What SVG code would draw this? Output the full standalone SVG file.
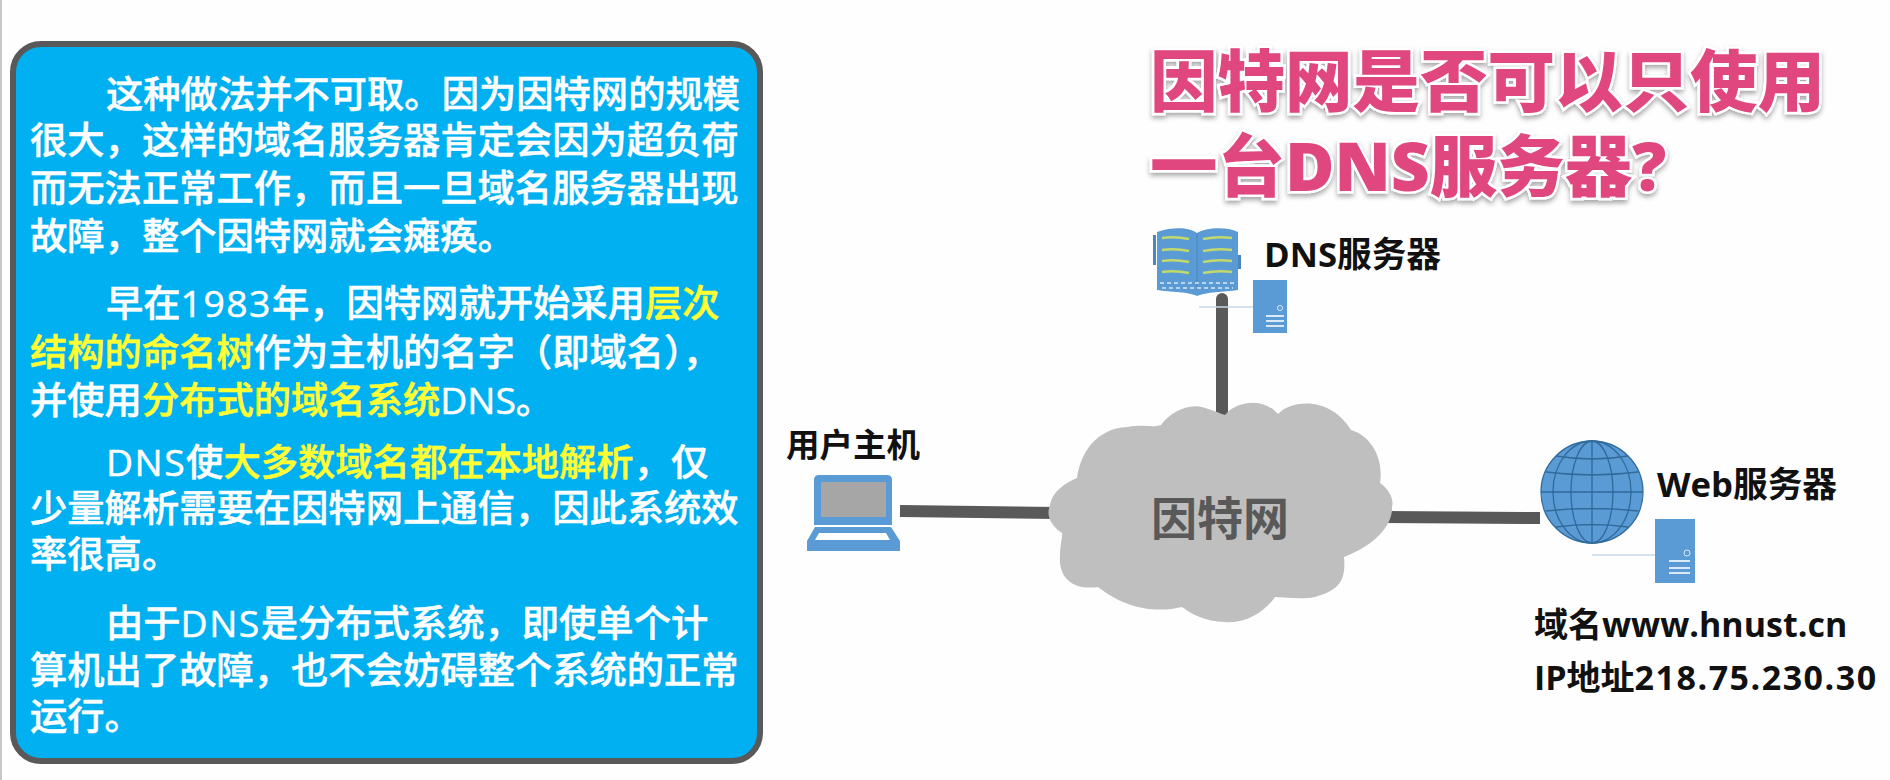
<svg xmlns="http://www.w3.org/2000/svg" width="1890" height="780" viewBox="0 0 1890 780">
<defs>
<style>
text{font-family:"Open Sans","Noto Sans CJK SC",sans-serif}
.p{font-size:37.3px;font-weight:500;fill:#fff;stroke:#fff;stroke-width:.5px}
.y{fill:#ffff33;stroke:#ffff33}
.s{letter-spacing:1.5px}
.l{font-size:34.7px;font-weight:700;fill:#111}
.i{font-size:34px;font-weight:700;fill:#111}
.t{font-size:67.5px;font-weight:800;fill:#e0477f;stroke:#fff;stroke-width:5px;paint-order:stroke;filter:url(#sh)}
.ic{fill:#5b9bd5}
.c{stroke:#595959;fill:none}
.hair{stroke:#c5d9ea;stroke-width:1.5;fill:none}
.w{stroke:#dbe8f5;stroke-width:2;fill:none}
.g{stroke:#2f6a9a;stroke-width:1.3;fill:none}
.b{stroke:#c2d96c;stroke-width:2.5;fill:none}
</style>
<filter id="sh" x="-5%" y="-10%" width="110%" height="125%"><feDropShadow dx="0" dy="3" stdDeviation="2.5" flood-color="#000" flood-opacity=".35"/></filter>
</defs>
<rect width="1890" height="780" fill="#fefefe"/>
<rect width="2" height="780" fill="#c8c8c8"/>
<g id="panel">
<rect x="13" y="44" width="747" height="717" rx="28" fill="#00b0f0" stroke="#595959" stroke-width="6"/>
<text class="p" x="106" y="108">这种做法并不可取。因为因特网的规模</text>
<text class="p" x="30" y="154">很大，这样的域名服务器肯定会因为超负荷</text>
<text class="p" x="30" y="202">而无法正常工作，而且一旦域名服务器出现</text>
<text class="p" x="30" y="250">故障，整个因特网就会瘫痪。</text>
<text class="p" x="106" y="317">早在<tspan class="s">1983</tspan>年，因特网就开始采用<tspan class="y">层次</tspan></text>
<text class="p" x="30" y="366"><tspan class="y">结构的命名树</tspan>作为主机的名字（即域名），</text>
<text class="p" x="30" y="414">并使用<tspan class="y">分布式的域名系统</tspan>DNS。</text>
<text class="p" x="106" y="476"><tspan class="s">DNS</tspan>使<tspan class="y">大多数域名都在本地解析</tspan>，仅</text>
<text class="p" x="30" y="522">少量解析需要在因特网上通信，因此系统效</text>
<text class="p" x="30" y="568">率很高。</text>
<text class="p" x="106" y="637">由于<tspan class="s">DNS</tspan>是分布式系统，即使单个计</text>
<text class="p" x="30" y="684">算机出了故障，也不会妨碍整个系统的正常</text>
<text class="p" x="30" y="730">运行。</text>
</g>
<g id="title">
<text class="t" x="1150" y="106">因特网是否可以只使用</text>
<text class="t" x="1150" y="191">一台DNS服务器?</text>
</g>
<g id="connectors">
<path class="c" stroke-width="12" d="M900 511L1056 513"/>
<path class="c" stroke-width="12" stroke-linecap="round" d="M1222 299V420"/>
<path class="c" stroke-width="12" d="M1385 517L1540 518"/>
</g>
<g id="cloud">
<path fill="#bfbfbf" d="M1077 478C1080 455 1095 428 1128 427C1145 424 1152 428 1161 425C1170 412 1190 402 1205 408C1215 411 1222 414 1225 415C1235 402 1262 396 1278 414C1290 400 1330 395 1351 430C1372 436 1384 460 1380 483C1390 490 1394 500 1392 507C1393 525 1375 545 1344 557C1346 580 1340 590 1315 597C1300 600 1285 597 1275 597C1265 612 1245 624 1225 622C1205 622 1190 613 1182 607C1160 612 1130 612 1098 587C1075 590 1058 580 1060 555C1060 545 1063 535 1062 533C1050 525 1046 515 1050 505C1052 492 1065 483 1077 478Z"/>
<text x="1220" y="535" text-anchor="middle" font-size="46" font-weight="700" fill="#595959">因特网</text>
</g>
<g id="user-host">
<text class="l" x="786" y="457" style="font-size:33.5px">用户主机</text>
<path class="ic" d="M819 475H887Q892 475 892 480V525H814V480Q814 475 819 475Z"/>
<rect x="821" y="482" width="65" height="35" fill="#a6a6a6"/>
<path class="ic" d="M815 527H891L900 541V551H807V541Z"/>
<path d="M819 533H886L890 540H815Z" fill="#fff"/>
</g>
<g id="dns-server">
<path class="ic" d="M1157 232C1175 226 1190 228 1197 233C1205 228 1225 226 1238 232V290C1225 292 1205 292 1197 296C1190 292 1170 292 1157 290Z"/>
<path d="M1197 233V290" stroke="#4a86bd" fill="none"/>
<path class="b" d="M1162 238Q1175 236 1189 239M1203 239Q1218 236 1232 238M1162 250Q1175 248 1189 251M1203 251Q1218 248 1232 250M1162 261Q1175 259 1189 262M1203 262Q1218 259 1232 261M1162 272Q1175 270 1189 273M1203 273Q1218 270 1232 272"/>
<path class="w" style="stroke-width:1.5" d="M1160 283H1235M1162 288H1233" stroke-dasharray="4 3"/>
<rect x="1153" y="235" width="3" height="30" fill="#4a86bd"/><rect x="1238" y="255" width="3" height="14" fill="#4a86bd"/>
<path class="hair" d="M1199 307H1253"/>
<rect class="ic" x="1253" y="280" width="34" height="53"/>
<circle cx="1280" cy="308" r="2.5" fill="none" stroke="#dbe8f5"/>
<path class="w" d="M1266 316H1284M1266 321H1284M1266 326H1284"/>
<text class="l" x="1264" y="267">DNS服务器</text>
</g>
<g id="web-server">
<circle class="ic" cx="1592" cy="492" r="51"/>
<g class="g"><circle cx="1592" cy="492" r="51"/><ellipse cx="1592" cy="492" rx="39" ry="51"/><ellipse cx="1592" cy="492" rx="21" ry="51"/>
<path d="M1592 441V543M1541 492H1643M1556 456Q1592 462 1628 456M1546 472Q1592 478 1638 472M1546 511Q1592 506 1638 511M1556 527Q1592 522 1628 527"/></g>
<path class="hair" d="M1592 555H1655"/>
<rect class="ic" x="1655" y="519" width="40" height="64"/>
<circle cx="1687" cy="553" r="3" fill="none" stroke="#dbe8f5"/>
<path class="w" d="M1669 561H1690M1669 568H1690M1669 573H1690"/>
<text class="l" x="1657" y="497">Web服务器</text>
</g>
<g id="web-info">
<text class="i" x="1534" y="637">域名www.hnust.cn</text>
<text class="i" x="1534" y="690">IP地址<tspan letter-spacing="1.5">218.75.230.30</tspan></text>
</g>
</svg>
